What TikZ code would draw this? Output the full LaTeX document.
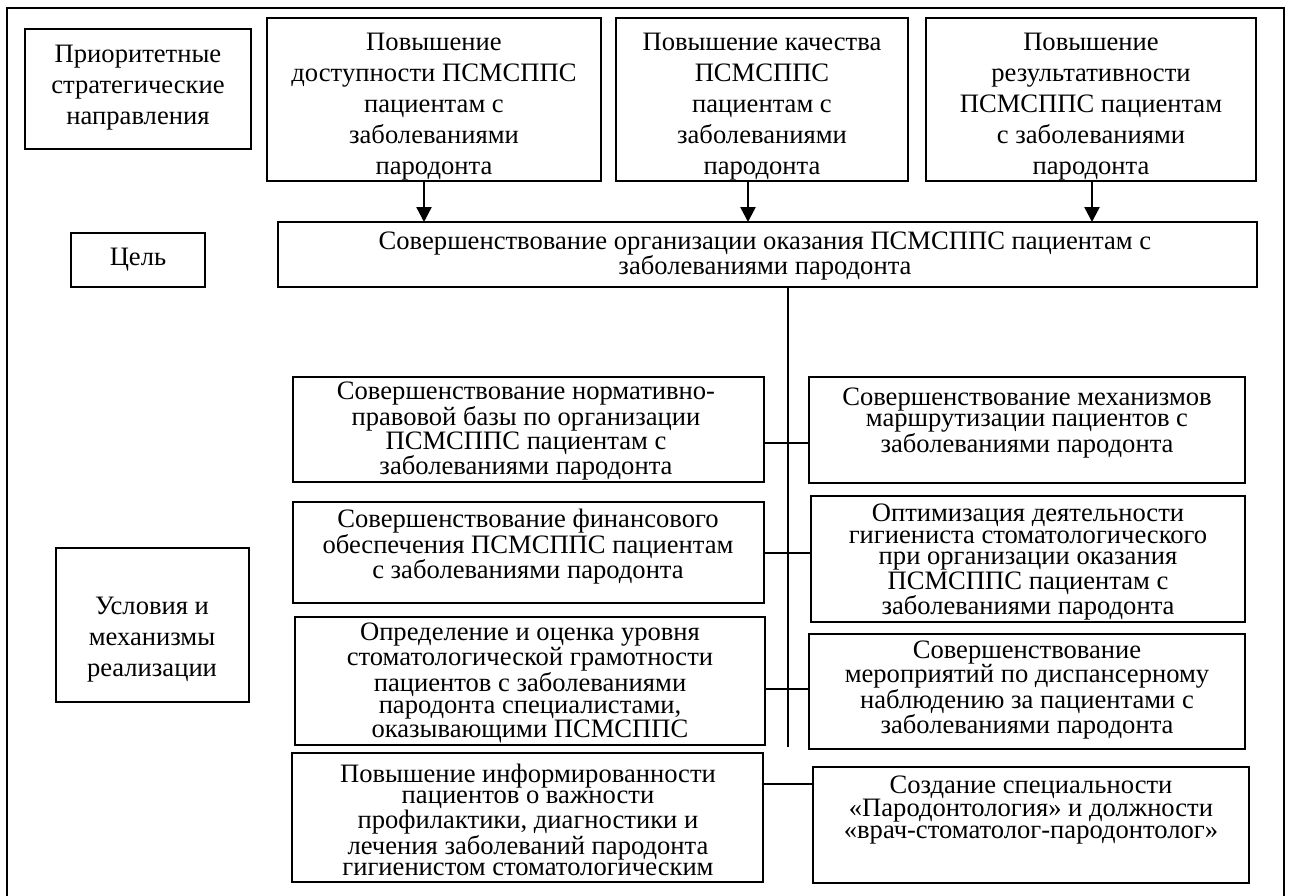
\documentclass[tikz,border=0pt]{standalone}
\usepackage{fontspec}
\setmainfont{Liberation Serif}
\usetikzlibrary{arrows.meta}
\tikzset{
  bx/.style={draw, line width=2pt, inner sep=0pt, outer sep=0pt},
  wide/.style={font=\fontsize{26.6}{31}\selectfont, align=center, inner sep=0pt},
  tight/.style={font=\fontsize{26.6}{21.7}\selectfont, align=center, inner sep=0pt},
  arr/.style={line width=2.4pt, -{Triangle[length=15pt,width=15pt]}},
  thin/.style={line width=1.2pt},
}
\begin{document}
\begin{tikzpicture}[x=1pt,y=-1pt]
\useasboundingbox (0,0) rectangle (1291,895);
% outer frame
\draw[line width=2.6pt] (7,905) -- (7,8) -- (1284,8) -- (1284,905);
% boxes
\node[bx, minimum width=226pt, minimum height=120pt] (pr) at (138,89) {};
\node[bx, minimum width=334pt, minimum height=163pt] (b1) at (434,99.5) {};
\node[bx, minimum width=292pt, minimum height=163pt] (b2) at (762,99.5) {};
\node[bx, minimum width=330pt, minimum height=163pt] (b3) at (1091,99.5) {};
\node[bx, minimum width=979pt, minimum height=65pt] (goal) at (767.5,254.5) {};
\node[bx, minimum width=134pt, minimum height=54pt] (cel) at (138,260) {};
\node[bx, minimum width=193pt, minimum height=154pt] (usl) at (152.5,625) {};
\node[bx, minimum width=471pt, minimum height=105pt] (la) at (528.5,429.5) {};
\node[bx, minimum width=436pt, minimum height=106pt] (ra) at (1027,430) {};
\node[bx, minimum width=471pt, minimum height=101pt] (lb) at (528.5,552.5) {};
\node[bx, minimum width=434pt, minimum height=126pt] (rb) at (1028,559) {};
\node[bx, minimum width=470pt, minimum height=128pt] (lc) at (530,681) {};
\node[bx, minimum width=436pt, minimum height=115pt] (rc) at (1027,691.5) {};
\node[bx, minimum width=471pt, minimum height=129pt] (ld) at (527.5,817.5) {};
\node[bx, minimum width=436pt, minimum height=116pt] (rd) at (1031,825) {};
% texts
\node[wide] (tpr) at (138,88) {Приоритетные\\стратегические\\направления};
\node[wide] (tb1) at (434,107) {Повышение\\доступности ПСМСППС\\пациентам с\\заболеваниями\\пародонта};
\node[wide] (tb2) at (762,107) {Повышение качества\\ПСМСППС\\пациентам с\\заболеваниями\\пародонта};
\node[wide] (tb3) at (1091,107) {Повышение\\результативности\\ПСМСППС пациентам\\с заболеваниями\\пародонта};
\node[tight] (tgoal) at (765,256) {Совершенствование организации оказания ПСМСППС пациентам с\\заболеваниями пародонта};
\node[wide] (tcel) at (138,260) {Цель};
\node[wide] (tusl) at (152,640) {Условия и\\механизмы\\реализации};
\node[tight] (tla) at (526,431) {Совершенствование нормативно-\\правовой базы по организации\\ПСМСППС пациентам с\\заболеваниями пародонта};
\node[tight] (tra) at (1027,423) {Совершенствование механизмов\\маршрутизации пациентов с\\заболеваниями пародонта};
\node[tight] (tlb) at (528,547) {Совершенствование финансового\\обеспечения ПСМСППС пациентам\\с заболеваниями пародонта};
\node[tight] (trb) at (1028,562) {Оптимизация деятельности\\гигиениста стоматологического\\при организации оказания\\ПСМСППС пациентам с\\заболеваниями пародонта};
\node[tight] (tlc) at (530,683) {Определение и оценка уровня\\стоматологической грамотности\\пациентов с заболеваниями\\пародонта специалистами,\\оказывающими ПСМСППС};
\node[tight] (trc) at (1027,690) {Совершенствование\\мероприятий по диспансерному\\наблюдению за пациентами с\\заболеваниями пародонта};
\node[tight] (tld) at (528,820) {Повышение информированности\\пациентов о важности\\профилактики, диагностики и\\лечения заболеваний пародонта\\гигиенистом стоматологическим};
\node[tight] (trd) at (1031,810) {Создание специальности\\«Пародонтология» и должности\\«врач-стоматолог-пародонтолог»};
% arrows
\coordinate (a1) at (424,0);
\coordinate (a2) at (748,0);
\coordinate (a3) at (1092,0);
\draw[arr] (b1.south -| a1) -- (goal.north -| a1);
\draw[arr] (b2.south -| a2) -- (goal.north -| a2);
\draw[arr] (b3.south -| a3) -- (goal.north -| a3);
% spine and connectors
\coordinate (sp) at (788,0);
\coordinate (spend) at (788,747);
\draw[thin] (goal.south -| sp) -- (spend);
\coordinate (cA) at (0,443);
\coordinate (cB) at (0,553);
\coordinate (cC) at (0,689);
\coordinate (cD) at (0,784);
\draw[thin] (la.east |- cA) -- (ra.west |- cA);
\draw[thin] (lb.east |- cB) -- (rb.west |- cB);
\draw[thin] (lc.east |- cC) -- (rc.west |- cC);
\draw[thin] (ld.east |- cD) -- (rd.west |- cD);
\end{tikzpicture}
\end{document}
